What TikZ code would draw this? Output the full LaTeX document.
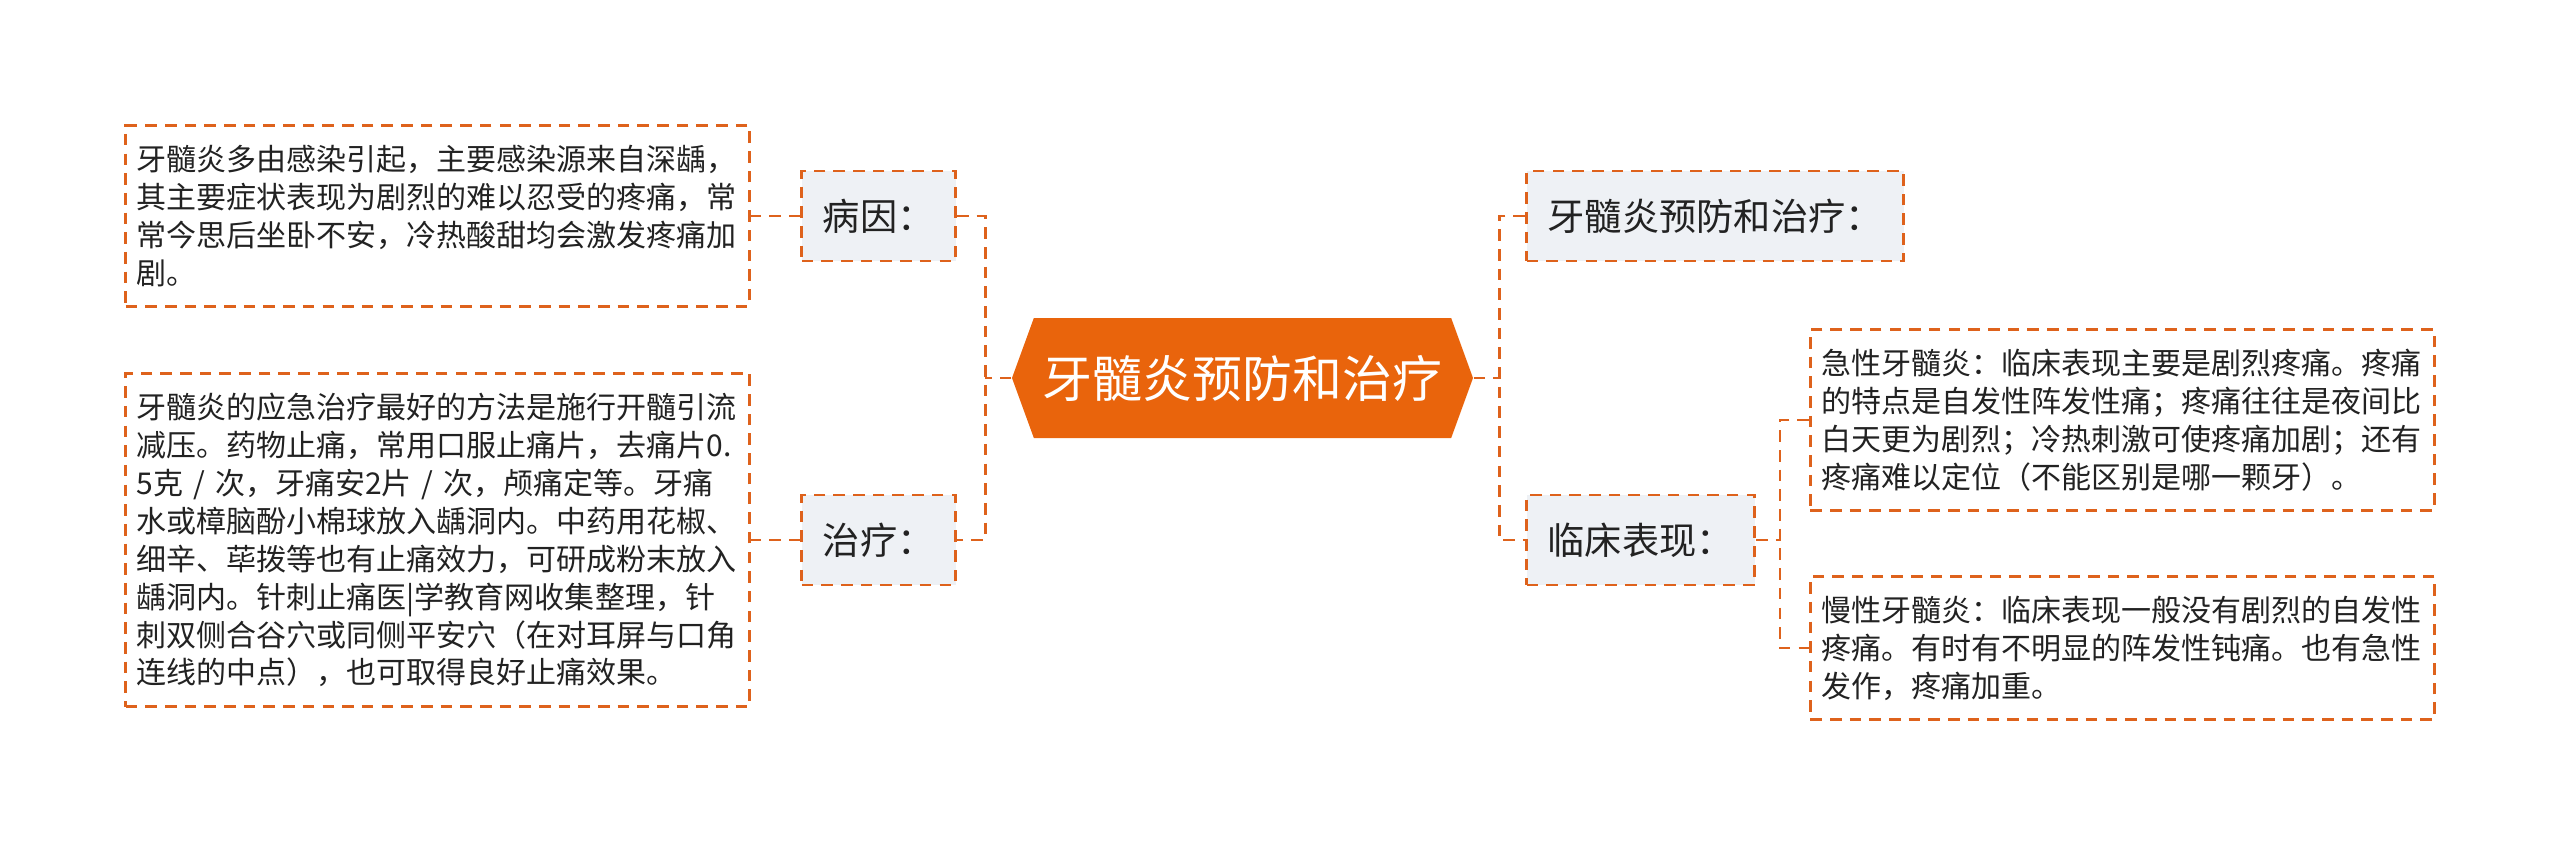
\documentclass[tikz,border=0pt]{standalone}
\usepackage{fontspec}
\newfontfamily\cjk{Noto Sans CJK SC}
\usetikzlibrary{shapes.symbols}
\definecolor{mmorange}{RGB}{233,100,12}
\definecolor{mmline}{RGB}{222,98,28}
\definecolor{mmgray}{RGB}{238,241,245}
\definecolor{mmtext}{RGB}{34,34,34}

\begin{document}
\begin{tikzpicture}[x=1cm,y=1cm,
    rootbox/.style={shape=signal, signal to=west and east, signal pointer angle=140,
      fill=mmorange, text=white, font=\cjk\fontsize{14.2pt}{17pt}\selectfont,
      minimum width=4.61cm, minimum height=1.2cm, inner sep=0pt},
    topicbox/.style={draw=mmline, line width=0.85pt, dash pattern=on 3.3pt off 2.3pt,
      fill=mmgray, text=mmtext, font=\cjk\fontsize{10.6pt}{12.5pt}\selectfont,
      minimum height=0.9cm, inner xsep=0.21cm},
    leafbox/.style={draw=mmline, line width=0.75pt, dash pattern=on 3.3pt off 2.3pt,
      fill=white, text=mmtext, font=\cjk\fontsize{8.54pt}{10.8pt}\selectfont,
      text width=6.02cm, align=left, inner xsep=0.11cm, inner ysep=0.195cm},
    branch/.style={draw=mmline, line width=0.85pt, dash pattern=on 3.3pt off 2.3pt},
    twig/.style={draw=mmline, line width=0.6pt, dash pattern=on 3.3pt off 2.3pt}]
    \useasboundingbox (0,0) rectangle (25.6,8.48);

    % centre
    \node[rootbox] (root) at (12.425,4.70) {牙髓炎预防和治疗};

    % left side
    \node[topicbox, anchor=east] (bingyin) at (9.57,6.32) {病因：};
    \node[topicbox, anchor=east] (zhiliao) at (9.57,3.08) {治疗：};
    \node[leafbox, anchor=east] (bingyintxt) at (7.51,6.32) {
    牙髓炎多由感染引起，主要感染源来自深龋，\\
    其主要症状表现为剧烈的难以忍受的疼痛，常\\
    常今思后坐卧不安，冷热酸甜均会激发疼痛加\\
    剧。
    };
    \node[leafbox, anchor=east] (zhiliaotxt) at (7.51,3.08) {
    牙髓炎的应急治疗最好的方法是施行开髓引流\\
    减压。药物止痛，常用口服止痛片，去痛片0.\\
    5克 / 次，牙痛安2片 / 次，颅痛定等。牙痛\\
    水或樟脑酚小棉球放入龋洞内。中药用花椒、\\
    细辛、荜拨等也有止痛效力，可研成粉末放入\\
    龋洞内。针刺止痛医|学教育网收集整理，针\\
    刺双侧合谷穴或同侧平安穴（在对耳屏与口角\\
    连线的中点），也可取得良好止痛效果。
    };

    % right side
    \node[topicbox, anchor=west] (yufang) at (15.25,6.32) {牙髓炎预防和治疗：};
    \node[topicbox, anchor=west] (linchuang) at (15.25,3.08) {临床表现：};
    \node[leafbox, anchor=west] (jixing) at (18.09,4.28) {
    急性牙髓炎：临床表现主要是剧烈疼痛。疼痛\\
    的特点是自发性阵发性痛；疼痛往往是夜间比\\
    白天更为剧烈；冷热刺激可使疼痛加剧；还有\\
    疼痛难以定位（不能区别是哪一颗牙）。
    };
    \node[leafbox, anchor=west] (manxing) at (18.09,2.00) {
    慢性牙髓炎：临床表现一般没有剧烈的自发性\\
    疼痛。有时有不明显的阵发性钝痛。也有急性\\
    发作，疼痛加重。
    };

    % connectors
    \coordinate (ljoint) at (9.85,4.70);
    \coordinate (rjoint) at (14.99,4.70);
    \coordinate (cjoint) at (17.80,3.08);
    \draw[branch] (root.west) -- (ljoint);
    \draw[branch] (bingyin.east) -| (ljoint) |- (zhiliao.east);
    \draw[branch] (root.east) -- (rjoint);
    \draw[branch] (yufang.west) -| (rjoint) |- (linchuang.west);
    \draw[twig] (bingyin.west) -- (bingyintxt.east);
    \draw[twig] (zhiliao.west) -- (zhiliaotxt.east);
    \draw[twig] (linchuang.east) -- (cjoint);
    \draw[twig] (jixing.west) -| (cjoint) |- (manxing.west);
\end{tikzpicture}
\end{document}
